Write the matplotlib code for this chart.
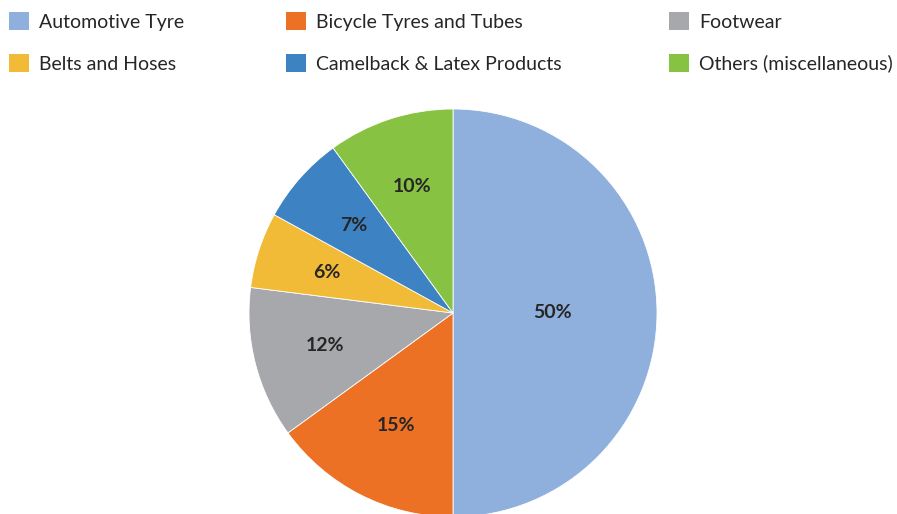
import matplotlib.pyplot as plt
from matplotlib.patches import Patch

# rubber consumption by sector
categories = ["Automotive Tyre", "Bicycle Tyres and Tubes", "Footwear",
              "Belts and Hoses", "Camelback & Latex Products", "Others (miscellaneous)"]
shares = [50, 15, 12, 6, 7, 10]
colors = ["#8FB0DC", "#EC7125", "#A7A8AB", "#F1BB37", "#3D82C3", "#87C242"]

plt.rcParams['font.family'] = ['Lato', 'DejaVu Sans']

fig = plt.figure(figsize=(8.97, 5.14), dpi=100)

# pie centred at (453, 313) px, radius 204 px
W, H = 897, 514
cx, cy, r = 453, 313, 204
ax = fig.add_axes([(cx - r) / W, (H - cy - r) / H, 2 * r / W, 2 * r / H])

wedges, texts, autotexts = ax.pie(
    shares, colors=colors, startangle=90, counterclock=False,
    autopct='%d%%', pctdistance=0.65,
    wedgeprops=dict(edgecolor='white', linewidth=0.6),
    textprops=dict(fontsize=14, fontweight='bold', color='#262626'))

# the big slice label sits closer to the centre
x, y = autotexts[0].get_position()
autotexts[0].set_position((x * 0.75, y * 0.75))
x, y = autotexts[1].get_position()
autotexts[1].set_position((x * 0.95, y * 0.95))

ax.set_xlim(-1, 1)
ax.set_ylim(-1, 1)
ax.set_aspect('equal')
ax.axis('off')

# legend: three columns of two entries
col_x = [-0.0026, 0.3062, 0.7330]
for c in range(3):
    idx = [c, c + 3]
    handles = [Patch(facecolor=colors[i], edgecolor='none') for i in idx]
    labels = [categories[i] for i in idx]
    fig.legend(handles, labels, loc='upper left', bbox_to_anchor=(col_x[c], 0.999),
               frameon=False, fontsize=14, handlelength=1.0, handleheight=1.0,
               handletextpad=0.55, labelspacing=1.22, borderaxespad=0.2,
               labelcolor='#262626')

fig.savefig('out.png', dpi=100)
